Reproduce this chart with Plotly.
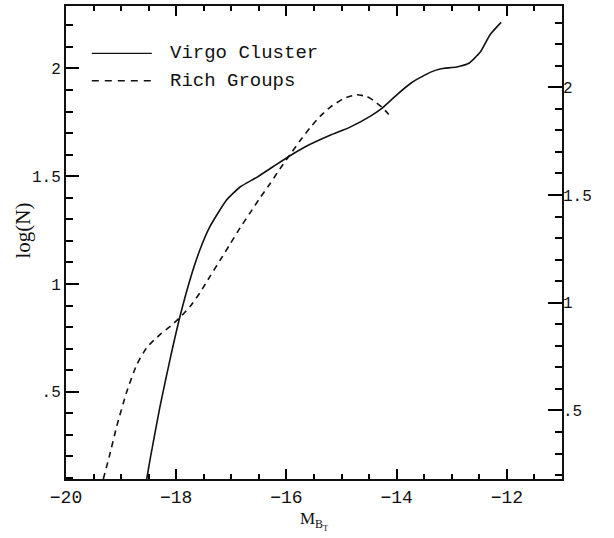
import plotly.graph_objects as go

# ---- data ----
virgo_x = [-18.535, -18.475, -18.294, -18.113, -17.931, -17.750, -17.568, -17.387,
           -17.083, -16.842, -16.539, -16.238, -15.935, -15.632, -15.209, -14.846,
           -14.483, -14.270, -13.998, -13.726, -13.394, -13.213, -12.909, -12.699,
           -12.486, -12.305, -12.105]
virgo_y = [0.095, 0.185, 0.432, 0.649, 0.850, 1.020, 1.160, 1.267,
           1.391, 1.450, 1.495, 1.545, 1.595, 1.640, 1.690, 1.728,
           1.778, 1.815, 1.878, 1.935, 1.982, 1.998, 2.007, 2.023,
           2.075, 2.157, 2.214]

rich_x = [-19.323, -19.214, -19.080, -18.898, -18.717, -18.535, -18.294, -18.100,
          -17.931, -17.750, -17.568, -17.387, -17.205, -17.023, -16.842, -16.660,
          -16.479, -16.298, -16.117, -15.935, -15.754, -15.572, -15.391, -15.209,
          -14.967, -14.724, -14.543, -14.423, -14.270, -14.102]
rich_y = [0.095, 0.200, 0.339, 0.500, 0.625, 0.705, 0.765, 0.805,
          0.845, 0.895, 0.960, 1.035, 1.110, 1.185, 1.260, 1.330,
          1.400, 1.465, 1.535, 1.600, 1.665, 1.725, 1.778, 1.820,
          1.860, 1.878, 1.870, 1.852, 1.821, 1.775]

series_names = ["Virgo Cluster", "Rich Groups"]
x_ticks = [-20, -18, -16, -14, -12]
y_ticks = [0.5, 1, 1.5, 2]
y_ticktext = [".5", "1", "1.5", "2"]
y_right_minor = [0.2, 0.3, 0.4, 0.6, 0.7, 0.8, 0.9, 1.1, 1.2, 1.3, 1.4, 1.6, 1.7,
                 1.8, 1.9, 2.1, 2.2, 2.3]

x_range = [-20, -11]
y_range = [0.095, 2.29]
y2_offset = 0.087
y2_range = [y_range[0] + y2_offset, y_range[1] + y2_offset]

INK = "#111111"
MONO = "Liberation Mono"
SERIF = "Liberation Serif"

fig = go.Figure()
fig.add_trace(go.Scatter(x=virgo_x, y=virgo_y, mode="lines", name=series_names[0],
                         line=dict(color=INK, width=1.6, shape="spline", smoothing=0.5),
                         showlegend=False))
fig.add_trace(go.Scatter(x=rich_x, y=rich_y, mode="lines", name=series_names[1],
                         line=dict(color=INK, width=1.6, dash="6px,5px", shape="spline",
                                   smoothing=0.5),
                         showlegend=False))

# manual legend (sample lines + labels)
legend_rows = [(series_names[0], "solid", 0.900), (series_names[1], "7px,6px", 0.842)]
for name, dash, yy in legend_rows:
    fig.add_shape(type="line", xref="paper", yref="paper", x0=0.052, x1=0.173,
                  y0=yy, y1=yy, line=dict(color=INK, width=1.3, dash=dash))
    fig.add_annotation(xref="paper", yref="paper", x=0.206, y=yy, text=name,
                       showarrow=False, xanchor="left", yanchor="middle",
                       font=dict(family=MONO, size=19, color=INK))

# y axis title placed like the reference
fig.add_annotation(xref="paper", yref="paper", x=-0.087, y=0.525, text="log(N)",
                   textangle=-90, showarrow=False, xanchor="center", yanchor="middle",
                   font=dict(family=SERIF, size=21, color=INK))

fig.update_layout(
    width=614, height=538,
    margin=dict(l=66, r=52, t=6, b=59),
    paper_bgcolor="white", plot_bgcolor="rgba(0,0,0,0)",
    showlegend=False,
    xaxis=dict(range=x_range, tickvals=x_ticks, ticks="inside", ticklen=10, tickwidth=2,
               tickcolor="blue" if False else "#000000", showline=True, linecolor=INK,
               linewidth=2, mirror="ticks", showgrid=False, zeroline=False,
               automargin=False,
               minor=dict(dtick=0.5, tick0=0, ticks="inside", ticklen=5, tickwidth=2,
                          tickcolor="#000000", showgrid=False),
               tickfont=dict(family=MONO, size=18, color=INK),
               title=dict(text="M<sub>B<sub>T</sub></sub>", standoff=6,
                          font=dict(family=SERIF, size=17, color=INK))),
    yaxis=dict(range=y_range, tickvals=y_ticks, ticktext=y_ticktext,
               ticks="inside", ticklen=13, tickwidth=2, tickcolor="#000000",
               showline=True, linecolor=INK, linewidth=2, showgrid=False,
               zeroline=False, automargin=False,
               minor=dict(dtick=0.1, tick0=0, ticks="inside", ticklen=7, tickwidth=2,
                          tickcolor="#000000", showgrid=False),
               tickfont=dict(family=MONO, size=16, color=INK)),
    # right axis: line + short ticks
    yaxis2=dict(range=y2_range, overlaying="y", side="right", tickvals=y_right_minor,
                ticks="inside", ticklen=7, tickwidth=2, tickcolor="#000000",
                showticklabels=False, showline=True, linecolor=INK, linewidth=2,
                showgrid=False, zeroline=False, automargin=False),
    # right axis: long ticks + labels
    yaxis3=dict(range=y2_range, overlaying="y", side="right", tickvals=y_ticks,
                ticktext=y_ticktext, ticks="inside", ticklen=14, tickwidth=2,
                tickcolor="#000000", showline=False, showgrid=False, zeroline=False,
                automargin=False, tickfont=dict(family=MONO, size=16, color=INK)),
)
# invisible helper traces so the overlaid axes are drawn
for ax_name, rng in (("y2", y2_range), ("y3", y2_range)):
    fig.add_trace(go.Scatter(x=[x_range[0]], y=[rng[0]], yaxis=ax_name, mode="markers",
                             marker=dict(opacity=0), hoverinfo="skip", showlegend=False))

fig.write_html("out.html")
